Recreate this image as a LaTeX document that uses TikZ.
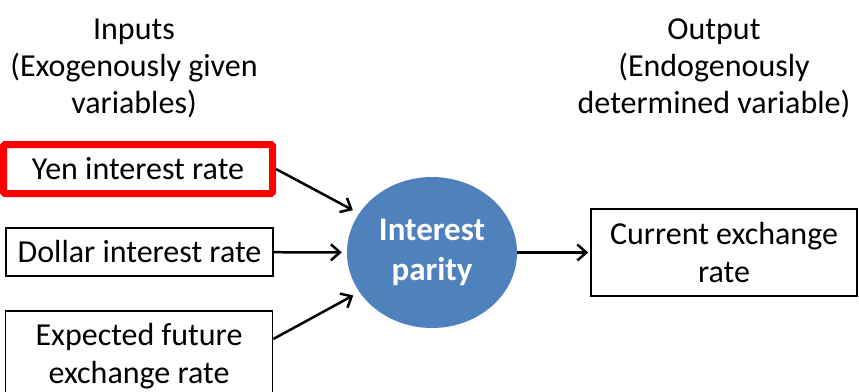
\documentclass[tikz,border=0pt]{standalone}
\usepackage{fontspec}
\setmainfont{Carlito}
\usetikzlibrary{arrows.meta,positioning,shapes.geometric}
\definecolor{parityblue}{HTML}{4F81BD}
\begin{document}
\begin{tikzpicture}[
  x=1pt, y=-1pt,
  every node/.style={font=\fontsize{32}{38}\selectfont},
  box/.style={draw, line width=1.6pt, minimum width=267pt, minimum height=48pt,
              align=center, inner sep=0pt},
  hot/.style={box, draw=red, line width=7pt, rounded corners=1.5pt,
              minimum width=269pt, minimum height=49pt},
  head/.style={align=center, inner sep=0pt, font=\fontsize{32}{37}\selectfont},
  arrow/.style={-{Straight Barb[length=9pt, width=16pt, line width=2.5pt]},
                line width=2.5pt}
]
\useasboundingbox (0,0) rectangle (859,391);
\node[head] (inhead) at (134,68) {Inputs\\(Exogenously given\\variables)};
\node[head] (outhead) at (714,68) {Output\\(Endogenously\\determined variable)};
\node[hot] (yen) at (138,169) {Yen interest rate};
\node[box] (dollar) at (139.5,252) {Dollar interest rate};
\node[box, minimum height=90pt] (expected) at (139,356) {Expected future\\exchange rate};
\node[ellipse, fill=parityblue, minimum width=170pt, minimum height=151pt,
      inner sep=0pt, align=center, text=white,
      font=\fontsize{33}{40}\bfseries\selectfont] (parity) at (432,252.5) {Interest\\parity};
\node[box, minimum width=266pt, minimum height=87pt] (current) at (724,252.5)
  {Current exchange\\rate};
\draw[arrow, shorten >=7pt] (yen.east) -- (parity);
\draw[arrow, shorten >=5pt] (dollar) -- (parity);
\draw[arrow, shorten >=7pt] ([yshift=17pt]expected.east) -- (parity);
\draw[arrow, shorten >=2pt] (parity) -- (current);
\end{tikzpicture}
\end{document}
